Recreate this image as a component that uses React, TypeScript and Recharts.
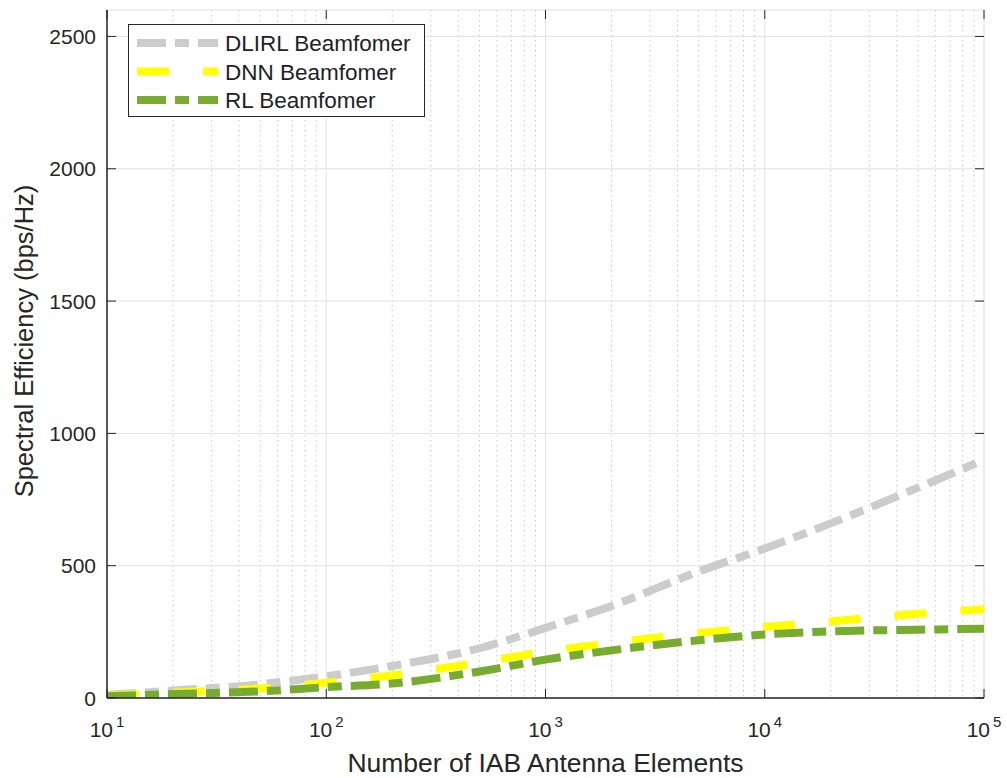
import { CartesianGrid, Line, LineChart, XAxis, YAxis } from 'recharts';

// Spectral efficiency vs. number of IAB antenna elements (log x axis)
const antennaCounts = [10, 20, 50, 100, 200, 500, 1000, 2000, 5000, 10000, 20000, 50000, 100000];
const dlirlSE = [12, 28, 52, 82, 121, 188, 265, 348, 478, 565, 660, 795, 900];
const dnnSE = [9, 20, 36, 58, 86, 134, 175, 208, 246, 268, 289, 318, 335];
const rlSE = [7, 15, 25, 41, 55, 100, 145, 180, 218, 240, 252, 258, 262];

const xMajorTicks = [10, 100, 1000, 10000, 100000];
const yTicks = [0, 500, 1000, 1500, 2000, 2500];
const seriesNames = ['DLIRL Beamfomer', 'DNN Beamfomer', 'RL Beamfomer'];

// minor log ticks: 2..9 within each decade
const xMinorTicks: number[] = [];
for (let d = 1; d < 5; d++) {
  for (let k = 2; k <= 9; k++) xMinorTicks.push(k * 10 ** d);
}

const data = antennaCounts.map((n, i) => ({
  n,
  dlirl: dlirlSE[i],
  dnn: dnnSE[i],
  rl: rlSE[i],
}));

const SERIES = [
  { key: 'dlirl', name: seriesNames[0], color: '#cccccc', dash: '29 9 14 9' },
  { key: 'dnn', name: seriesNames[1], color: '#ffff00', dash: '32 34' },
  { key: 'rl', name: seriesNames[2], color: '#77ac30', dash: '29 9 14 9' },
];

const W = 1007;
const H = 778;
const PLOT = { left: 107, right: 984, top: 10, bottom: 698 };
const AXIS = '#262626';
const FONT = '"Liberation Sans", Arial, Helvetica, sans-serif';
const LINE_W = 8;

function XMajorTick({ x, payload }: any) {
  const exp = Math.round(Math.log10(payload.value));
  return (
    <g>
      <line x1={x} x2={x} y1={PLOT.bottom} y2={PLOT.bottom - 9} stroke={AXIS} />
      <line x1={x} x2={x} y1={PLOT.top} y2={PLOT.top + 9} stroke={AXIS} />
      <text x={x} y={737} textAnchor="middle" fontSize={21} fill={AXIS} fontFamily={FONT}>
        10
        <tspan dx={3} dy={-10} fontSize={15}>
          {exp}
        </tspan>
      </text>
    </g>
  );
}

function XMinorTick({ x }: any) {
  return (
    <g>
      <line x1={x} x2={x} y1={PLOT.bottom} y2={PLOT.bottom - 5} stroke={AXIS} />
      <line x1={x} x2={x} y1={PLOT.top} y2={PLOT.top + 5} stroke={AXIS} />
    </g>
  );
}

function YMajorTick({ y, payload }: any) {
  return (
    <g>
      <line x1={PLOT.left} x2={PLOT.left + 9} y1={y} y2={y} stroke={AXIS} />
      <line x1={PLOT.right} x2={PLOT.right - 9} y1={y} y2={y} stroke={AXIS} />
      <text x={96} y={y} dy="0.36em" textAnchor="end" fontSize={21} fill={AXIS} fontFamily={FONT}>
        {payload.value}
      </text>
    </g>
  );
}

function XTitle() {
  return (
    <text x={(PLOT.left + PLOT.right) / 2} y={772} textAnchor="middle" fontSize={26.5} fill={AXIS} fontFamily={FONT}>
      Number of IAB Antenna Elements
    </text>
  );
}

function YTitle() {
  return (
    <text
      transform="translate(33,341) rotate(-90)"
      textAnchor="middle"
      fontSize={25.5}
      fill={AXIS}
      fontFamily={FONT}
    >
      Spectral Efficiency (bps/Hz)
    </text>
  );
}

function LegendBox() {
  return (
    <div
      style={{
        position: 'absolute',
        left: 128,
        top: 24,
        width: 297,
        height: 93,
        boxSizing: 'border-box',
        border: `1px solid ${AXIS}`,
        background: '#fff',
      }}
    >
      <svg width={295} height={91}>
        {SERIES.map((s, i) => {
          const cy = 18 + i * 28.5;
          return (
            <g key={s.key}>
              <line x1={8} x2={89} y1={cy} y2={cy} stroke={s.color} strokeWidth={LINE_W} strokeDasharray={s.dash} />
              <text x={96} y={cy} dy="0.36em" fontSize={22.5} fill="#1e1e2a" fontFamily={FONT}>
                {s.name}
              </text>
            </g>
          );
        })}
      </svg>
    </div>
  );
}

export default function App() {
  return (
    <div style={{ position: 'absolute', left: 0, top: 0, width: W, height: H, background: '#fff' }}>
      <LineChart width={W} height={H} data={data} margin={{ top: PLOT.top, right: W - PLOT.right, bottom: 0, left: 0 }}>
        <CartesianGrid xAxisId="minor" horizontal={false} stroke="#c8c8c8" strokeDasharray="1.5 3.5" />
        <CartesianGrid stroke="#e2e2e2" />
        <XAxis
          dataKey="n"
          type="number"
          scale="log"
          domain={[10, 100000]}
          ticks={xMajorTicks}
          interval={0}
          allowDataOverflow
          height={H - PLOT.bottom}
          tick={<XMajorTick />}
          tickLine={false}
          axisLine={{ stroke: AXIS, strokeWidth: 1.5 }}
          label={<XTitle />}
        />
        <XAxis
          xAxisId="minor"
          dataKey="n"
          type="number"
          scale="log"
          domain={[10, 100000]}
          ticks={xMinorTicks}
          interval={0}
          allowDataOverflow
          height={0}
          tick={<XMinorTick />}
          tickLine={false}
          axisLine={false}
        />
        <XAxis
          xAxisId="top"
          orientation="top"
          dataKey="n"
          type="number"
          scale="log"
          domain={[10, 100000]}
          allowDataOverflow
          height={0}
          tick={false}
          tickLine={false}
          axisLine={{ stroke: AXIS, strokeWidth: 1.5 }}
        />
        <YAxis
          type="number"
          domain={[0, 2600]}
          ticks={yTicks}
          interval={0}
          allowDataOverflow
          width={PLOT.left}
          tick={<YMajorTick />}
          tickLine={false}
          axisLine={{ stroke: AXIS, strokeWidth: 1.5 }}
          label={<YTitle />}
        />
        <YAxis
          yAxisId="right"
          orientation="right"
          type="number"
          domain={[0, 2600]}
          allowDataOverflow
          width={0}
          tick={false}
          tickLine={false}
          axisLine={{ stroke: AXIS, strokeWidth: 1.5 }}
        />
        {SERIES.map((s) => (
          <Line
            key={s.key}
            dataKey={s.key}
            name={s.name}
            type="monotone"
            stroke={s.color}
            strokeWidth={LINE_W}
            strokeDasharray={s.dash}
            dot={false}
            activeDot={false}
            isAnimationActive={false}
          />
        ))}
      </LineChart>
      <LegendBox />
    </div>
  );
}
